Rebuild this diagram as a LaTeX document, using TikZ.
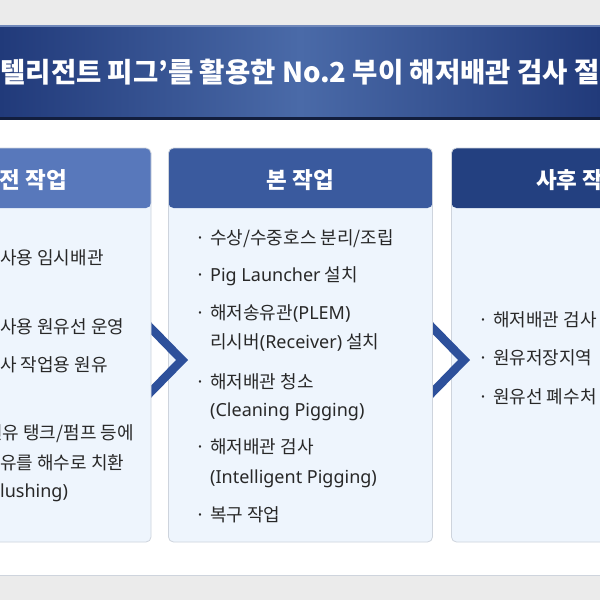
\documentclass[tikz,border=0pt]{standalone}
\usepackage{fontspec}
\setmainfont{Noto Sans CJK KR}
\newfontfamily\lat{Noto Sans}
\definecolor{bandgray}{RGB}{235,235,235}
\definecolor{ttldark}{RGB}{33,58,122}
\definecolor{ttlmid}{RGB}{74,106,168}
\definecolor{ttlline}{RGB}{18,30,62}
\definecolor{ttltop}{RGB}{112,136,186}
\definecolor{hdA}{RGB}{88,120,187}
\definecolor{hdB}{RGB}{58,90,158}
\definecolor{hdC}{RGB}{35,64,128}
\definecolor{cardbg}{RGB}{238,245,253}
\definecolor{cardline}{RGB}{206,212,221}
\definecolor{chev}{RGB}{45,80,155}
\definecolor{txt}{RGB}{40,40,40}
\newcommand\itemdot{\llap{·\hspace{5pt}}}

\begin{document}
\begin{tikzpicture}[x=1pt, y=-1pt,
  card/.style={draw=cardline, line width=0.8pt, fill=cardbg, rounded corners=5pt,
    minimum width=264pt, minimum height=394pt, inner sep=0pt},
  hd/.style={path picture={\fill[#1] (path picture bounding box.north west)
    rectangle ([yshift=-60pt]path picture bounding box.north east);}},
  hdtxt/.style={text=white, inner sep=0pt, font=\fontsize{22.5}{26}\selectfont\bfseries},
  item/.style={anchor=base west, inner sep=0pt, text=txt, font=\fontsize{18}{21}\selectfont},
  arrowhd/.style={fill=chev}]
\useasboundingbox (0,0) rectangle (600,600);
\clip (0,0) rectangle (600,600);
\fill[white] (0,0) rectangle (600,600);

% bands and title
\fill[bandgray] (0,0) rectangle (600,25);
\fill[bandgray] (0,575) rectangle (600,600);
\draw[cardline] (0,575) -- (600,575);
\shade[left color=ttldark, right color=ttldark, middle color=ttlmid] (0,25) rectangle (600,117);
\fill[ttltop] (0,25) rectangle (600,26.5);
\fill[ttlline] (0,117) rectangle (600,120);
\node[anchor=base west, inner sep=0pt, text=white, font=\fontsize{27.5}{30}\selectfont\bfseries]
  (ttl) at (-25,82) {인텔리전트 피그’를 활용한 No.2 부이 해저배관 검사 절};

% cards, drawn right to left so each arrow sits under the card on its left
\node[card, hd=hdC] (post) at (583.5,345) {};
\coordinate (tipB) at (470,360);
\fill[arrowhd] (tipB) -- ++(-48,-49) -- ++(0,12) -- ++(36,37) -- ++(-36,37) -- ++(0,12) -- cycle;
\node[card, hd=hdB] (main) at (300.5,345) {};
\coordinate (tipA) at (188,360);
\fill[arrowhd] (tipA) -- ++(-48,-49) -- ++(0,12) -- ++(36,37) -- ++(-36,37) -- ++(0,12) -- cycle;
\node[card, hd=hdA] (pre) at (19,345) {};

% headers
\node[hdtxt, anchor=base east] (preT) at (67,188) {전 작업};
\node[hdtxt, anchor=base] (mainT) at (300.5,188) {본 작업};
\node[hdtxt, anchor=base west] (postT) at (536,188) {사후 작};

% first card
\node[item] (p1) at (0,264) {사용 임시배관};
\node[item] (p2) at (0,333) {사용 원유선 운영};
\node[item] (p3) at (0,371) {사 작업용 원유};
\node[item] (p4) at (-14,439) {원유 탱크/펌프 등에};
\node[item] (p5) at (0,469) {유를 해수로 치환};
\node[item] (p6) at (0,497) {\lat lushing)};

% second card
\node[item] (m1) at (210,244) {\itemdot 수상/수중호스 분리/조립};
\node[item] (m2) at (210,281) {\itemdot {\lat Pig Launcher} 설치};
\node[item] (m3) at (210,319) {\itemdot 해저송유관{\lat (PLEM)}};
\node[item] (m3b) at (210,348) {리시버{\lat (Receiver)} 설치};
\node[item] (m4) at (210,388) {\itemdot 해저배관 청소};
\node[item] (m4b) at (210,416) {\lat (Cleaning Pigging)};
\node[item] (m5) at (210,453) {\itemdot 해저배관 검사};
\node[item] (m5b) at (210,483) {\lat (Intelligent Pigging)};
\node[item] (m6) at (210,521) {\itemdot 복구 작업};

% third card
\node[item] (q1) at (493,326) {\itemdot 해저배관 검사};
\node[item] (q2) at (493,364) {\itemdot 원유저장지역};
\node[item] (q3) at (493,403) {\itemdot 원유선 폐수처};
\end{tikzpicture}
\end{document}
